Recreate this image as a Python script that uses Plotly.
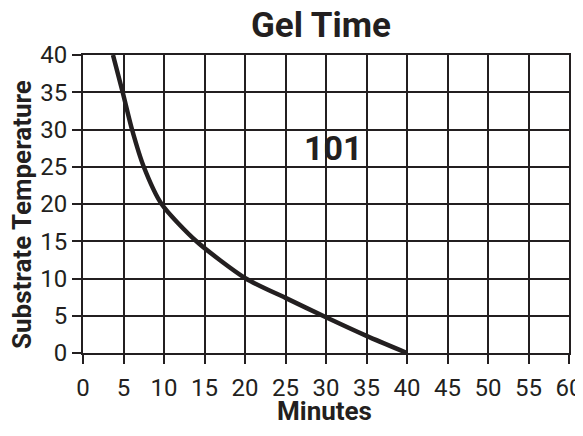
import plotly.graph_objects as go

minutes = [3.7, 4.9, 6.05, 7.5, 9.7, 14.0, 20.1, 25.0, 30.0, 35.0, 40.0]
temperature = [40, 35, 30, 25, 20, 15, 10, 7.4, 4.8, 2.3, 0]
x_ticks = [0, 5, 10, 15, 20, 25, 30, 35, 40, 45, 50, 55, 60]
y_ticks = [0, 5, 10, 15, 20, 25, 30, 35, 40]
label_text = "101"
label_pos = (30.9, 27.5)

INK = "#231f20"
FONT = "Roboto, Liberation Sans, sans-serif"

# page body has an 8px default margin, so the figure is sized to fit the window
W, H = 575, 420
ML, MR, MT, MB = 75, 14, 47, 75

fig = go.Figure()
fig.add_trace(go.Scatter(
    x=minutes, y=temperature, mode="lines",
    line=dict(color=INK, width=4.5, shape="spline", smoothing=0.7),
    hoverinfo="skip", showlegend=False,
))

fig.add_annotation(
    x=label_pos[0], y=label_pos[1], text="<b>%s</b>" % label_text,
    showarrow=False, font=dict(family=FONT, size=34, color=INK),
)

axis_common = dict(
    showgrid=True, gridcolor=INK, gridwidth=2,
    showline=True, linecolor=INK, linewidth=2, mirror=True,
    ticks="outside", ticklen=9, tickwidth=2, tickcolor=INK,
    zeroline=False, automargin=False, ticklabeloverflow="allow",
    tickfont=dict(family=FONT, size=24, color=INK),
)

fig.update_layout(
    width=W, height=H,
    paper_bgcolor="white", plot_bgcolor="white",
    margin=dict(l=ML, r=MR, t=MT, b=MB),
    title=dict(text="<b>Gel Time</b>", x=313 / W, xanchor="center", y=1 - 4 / H, yanchor="top",
               font=dict(family=FONT, size=35, color=INK)),
    xaxis=dict(range=[0, 60], tickvals=x_ticks, ticktext=[str(v) for v in x_ticks],
               ticklabelstandoff=3, **axis_common),
    yaxis=dict(range=[0, 40], tickvals=y_ticks, ticktext=[str(v) for v in y_ticks],
               **axis_common),
)

PW, PH = W - ML - MR, H - MT - MB
fig.add_annotation(
    text="<b>Minutes</b>", xref="paper", yref="paper",
    x=(316 - ML) / PW, y=-(403 - (H - MB)) / PH,
    showarrow=False, xanchor="center", yanchor="middle",
    font=dict(family=FONT, size=26, color=INK),
)
fig.add_annotation(
    text="<b>Substrate Temperature</b>", xref="paper", yref="paper",
    x=-(ML - 14) / PW, y=1 - (207 - MT) / PH,
    showarrow=False, xanchor="center", yanchor="middle", textangle=-90,
    font=dict(family=FONT, size=26, color=INK),
)

fig.write_html("out.html")
